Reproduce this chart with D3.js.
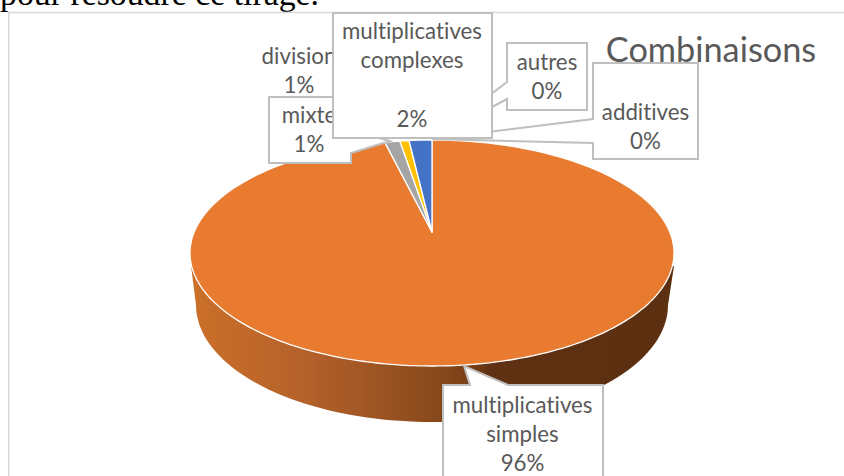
<!DOCTYPE html>
<html><head><meta charset="utf-8">
<script src="https://cdn.jsdelivr.net/npm/d3@7/dist/d3.min.js"></script>
<style>html,body{margin:0;padding:0;background:#fff;overflow:hidden}svg{display:block}text{font-variant-ligatures:none}</style>
</head><body><svg id="c" width="844" height="476"></svg>
<script>
const categories = ["multiplicatives simples","mixte","division","multiplicatives complexes","autres","additives"];
const values = [96,1,0.6,1.5,0,0];
const colors = ["#E97B31","#A5A5A5","#FFC000","#4472C4","#5B9BD5","#70AD47"];
const chartTitle = "Combinaisons";
const headerText = "pour résoudre ce tirage.";

const svg = d3.select("#c");
const inkColor = "#595959", boxColor = "#bfbfbf", font = "Lato, 'Open Sans', sans-serif";

// page text and chart frame
svg.append("text").attr("x",0).attr("y",5).attr("font-family","'Liberation Serif', serif")
  .attr("font-size",33.8).attr("fill","#000").text(headerText);
svg.append("path").attr("d","M844,12.5H8.8V476").attr("fill","none").attr("stroke","#d9d9d9").attr("stroke-width",1.6);

// projected pie geometry
const top_ = {cx:432, cy:253, rx:242, ry:113};
const bottom_ = {cx:432, cy:305, rx:236, ry:117};
const apex = [432,232];
const rim = (e,a)=>[e.cx+e.rx*Math.sin(a), e.cy-e.ry*Math.cos(a)];
const line = d3.line();
const arcs = d3.pie().sort(null).value(d=>d)(values);

// side wall
const grad = svg.append("defs").append("linearGradient").attr("id","wall")
  .attr("gradientUnits","userSpaceOnUse").attr("x1",190).attr("x2",674).attr("y1",0).attr("y2",0);
[[0,"#cc7029"],[0.25,"#b3602a"],[0.5,"#8a4a1c"],[0.58,"#7a3f17"],[0.62,"#5f3112"],[1,"#5c2f11"]]
  .forEach(s=>grad.append("stop").attr("offset",s[0]).attr("stop-color",s[1]));
const wallAngles = d3.range(90,270.5,2).map(d=>d*Math.PI/180);
const wallPts = [[674,266],...wallAngles.map(a=>rim(bottom_,a)),[191,266]];
svg.append("path").attr("d",line(wallPts)+"Z").attr("fill","url(#wall)");

// top face slices
svg.append("g").selectAll("path").data(arcs.filter(d=>d.value>0)).join("path")
  .attr("d",d=>{
    const n=Math.max(2,Math.ceil((d.endAngle-d.startAngle)/0.02));
    const pts=d3.range(n+1).map(i=>rim(top_,d.startAngle+(d.endAngle-d.startAngle)*i/n));
    return line([apex,...pts])+"Z";
  })
  .attr("fill",d=>colors[d.index])
  .attr("stroke","#fff").attr("stroke-width",1.3).attr("stroke-linejoin","round");

// labels
const pct = v => Math.round(v)+"%";
const text = (lines,cx,ys,size) => {
  const g=svg.append("g");
  lines.forEach((t,i)=>g.append("text").attr("x",cx).attr("y",ys[i]).attr("text-anchor","middle")
    .attr("font-family",font).attr("font-size",size||22.3).attr("fill",inkColor).text(t));
};
const callout = pts => svg.append("path").attr("d",line(pts)+"Z").attr("fill","#fff")
  .attr("stroke",boxColor).attr("stroke-width",2).attr("stroke-linejoin","miter");

svg.append("text").attr("x",711).attr("y",62).attr("text-anchor","middle").attr("font-family",font)
  .attr("font-size",34.3).attr("fill",inkColor).text(chartTitle);

text([categories[2],pct(values[2])],299,[64,93]);

callout([[593,63],[698,63],[698,159],[593,159],[593,143],[432,139],[593,119]]);
text([categories[5],pct(values[5])],645.5,[120,149]);

callout([[507,43],[587,43],[587,110],[507,110],[507,99],[432,139],[507,82]]);
text([categories[4],pct(values[4])],547,[70,99]);

callout([[269,97],[351,97],[351,130],[390,141],[351,153],[351,163],[269,163]]);
text([categories[1],pct(values[1])],309,[123,152]);

callout([[333,13],[492,13],[492,138],[333,138]]);
text(["multiplicatives","complexes"],412,[39,68]);
text([pct(values[3])],412,[127]);

callout([[443,385],[470,385],[464,366],[508,385],[603,385],[603,480],[443,480]]);
text(["multiplicatives","simples",pct(values[0])],522.5,[413,442,471]);
</script></body></html>
